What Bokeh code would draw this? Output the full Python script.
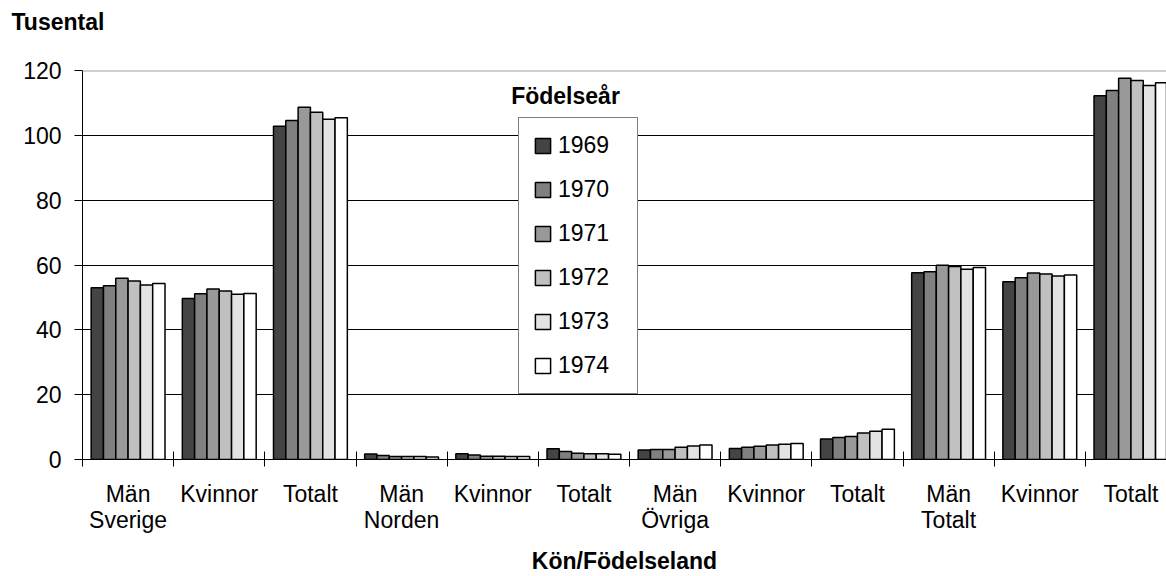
from bokeh.plotting import figure
from bokeh.models import (ColumnDataSource, FixedTicker, Legend, LegendItem, Label,
                          Span, Range1d)
from bokeh.transform import dodge
from bokeh.embed import file_html
from bokeh.resources import INLINE

# ---- data -------------------------------------------------------------
years = ["1969", "1970", "1971", "1972", "1973", "1974"]
label_top = ["Män", "Kvinnor", "Totalt"] * 4
label_bottom = ["Sverige", "", "", "Norden", "", "", "Övriga", "", "", "Totalt", "", ""]

v1969 = [53.0, 49.7, 102.8, 1.7, 1.8, 3.3, 2.9, 3.4, 6.3, 57.6, 54.8, 112.2]
v1970 = [53.6, 51.1, 104.6, 1.2, 1.4, 2.5, 3.1, 3.8, 6.8, 57.9, 56.1, 113.8]
v1971 = [55.9, 52.6, 108.7, 0.9, 1.0, 1.9, 3.1, 4.1, 7.1, 59.9, 57.5, 117.6]
v1972 = [55.1, 52.0, 107.1, 0.9, 1.0, 1.8, 3.8, 4.5, 8.2, 59.5, 57.2, 116.9]
v1973 = [53.8, 51.0, 105.0, 0.9, 0.9, 1.8, 4.2, 4.7, 8.7, 58.7, 56.6, 115.4]
v1974 = [54.3, 51.2, 105.4, 0.8, 0.9, 1.6, 4.5, 4.9, 9.3, 59.2, 56.9, 116.2]
series = [v1969, v1970, v1971, v1972, v1973, v1974]

y_ticks = [0, 20, 40, 60, 80, 100, 120]
y_title = "Tusental"
x_title = "Kön/Födelseland"
legend_title = "Födelseår"

# ---- styling ------------------------------------------------------------
colors = ["#444444", "#808080", "#999999", "#c0c0c0", "#e3e3e3", "#ffffff"]
FONT = "Liberation Sans"
FS = "23px"

n = len(label_top)
centers = [i + 0.5 for i in range(n)]
labels = [t + ("\n" + b if b else "") for t, b in zip(label_top, label_bottom)]

src = ColumnDataSource(dict(x=centers, **{y: s for y, s in zip(years, series)}))

p = figure(width=1166, height=576, x_range=Range1d(0, 11.89), y_range=Range1d(0, 120),
           output_backend="svg", toolbar_location=None,
           min_border_left=82, min_border_right=0, min_border_top=70, min_border_bottom=0)
p.outline_line_color = None
p.background_fill_color = "white"
p.border_fill_color = "white"

bar_w = 0.135
renderers = []
for i, (yr, col) in enumerate(zip(years, colors)):
    off = -bar_w * 3 + bar_w * (i + 0.5)
    r = p.vbar(x=dodge("x", off), top=yr, width=bar_w, source=src,
               fill_color=col, line_color="black", line_width=1.5)
    renderers.append(r)

# grid
p.xgrid.visible = False
p.ygrid.ticker = FixedTicker(ticks=y_ticks[1:-1])
p.ygrid.grid_line_color = "black"
p.ygrid.grid_line_width = 1
p.add_layout(Span(location=y_ticks[-1], dimension="width", line_color="#a0a0a0", line_width=2))

# y axis
ya = p.yaxis[0]
ya.ticker = FixedTicker(ticks=y_ticks)
ya.axis_line_color = "black"
ya.major_tick_line_color = "black"
ya.major_tick_out = 8
ya.major_tick_in = 0
ya.minor_tick_line_color = None
ya.major_label_standoff = 13
ya.major_label_text_font = FONT
ya.major_label_text_font_size = FS
ya.major_label_text_color = "black"

# x axis
xa = p.xaxis[0]
xa.ticker = FixedTicker(ticks=centers, minor_ticks=list(range(0, n + 1)))
xa.major_label_overrides = {c: lab for c, lab in zip(centers, labels)}
xa.major_tick_line_color = None
xa.major_tick_out = 7
xa.major_tick_in = 0
xa.minor_tick_line_color = "black"
xa.minor_tick_in = 8
xa.minor_tick_out = 7
xa.axis_line_color = "black"
xa.major_label_standoff = 14
xa.major_label_text_font = FONT
xa.major_label_text_font_size = FS
xa.major_label_text_line_height = 1.0
xa.major_label_text_color = "black"
xa.axis_label = x_title
xa.axis_label_text_font = FONT
xa.axis_label_text_font_size = FS
xa.axis_label_text_font_style = "bold"
xa.axis_label_text_color = "black"
xa.axis_label_standoff = 12

# title ("Tusental") at the top left; a blank second line keeps it high
p.title.text = y_title + "\n "
p.title.text_font = FONT
p.title.text_font_size = FS
p.title.text_font_style = "bold"
p.title.text_color = "black"
p.title.text_line_height = 1.0
p.title.align = "left"
p.title.vertical_align = "top"
p.title.offset = -71
p.title.standoff = 16

# legend
items = [LegendItem(label=yr, renderers=[r]) for yr, r in zip(years, renderers)]
legend = Legend(items=items, location=(436, 65), padding=14, spacing=17,
                label_height=25, glyph_height=19, glyph_width=19, label_standoff=6,
                label_width=65, label_text_font=FONT, label_text_font_size=FS,
                label_text_color="black",
                border_line_color="black", border_line_width=1, margin=0,
                background_fill_color="white", background_fill_alpha=1)
p.add_layout(legend)
p.add_layout(Label(x=483, y=364, x_units="screen", y_units="screen", text=legend_title,
                   text_font=FONT, text_font_size=FS, text_font_style="bold",
                   text_color="black", text_align="center", text_baseline="middle"))

open("out.html", "w").write(file_html(p, INLINE))
